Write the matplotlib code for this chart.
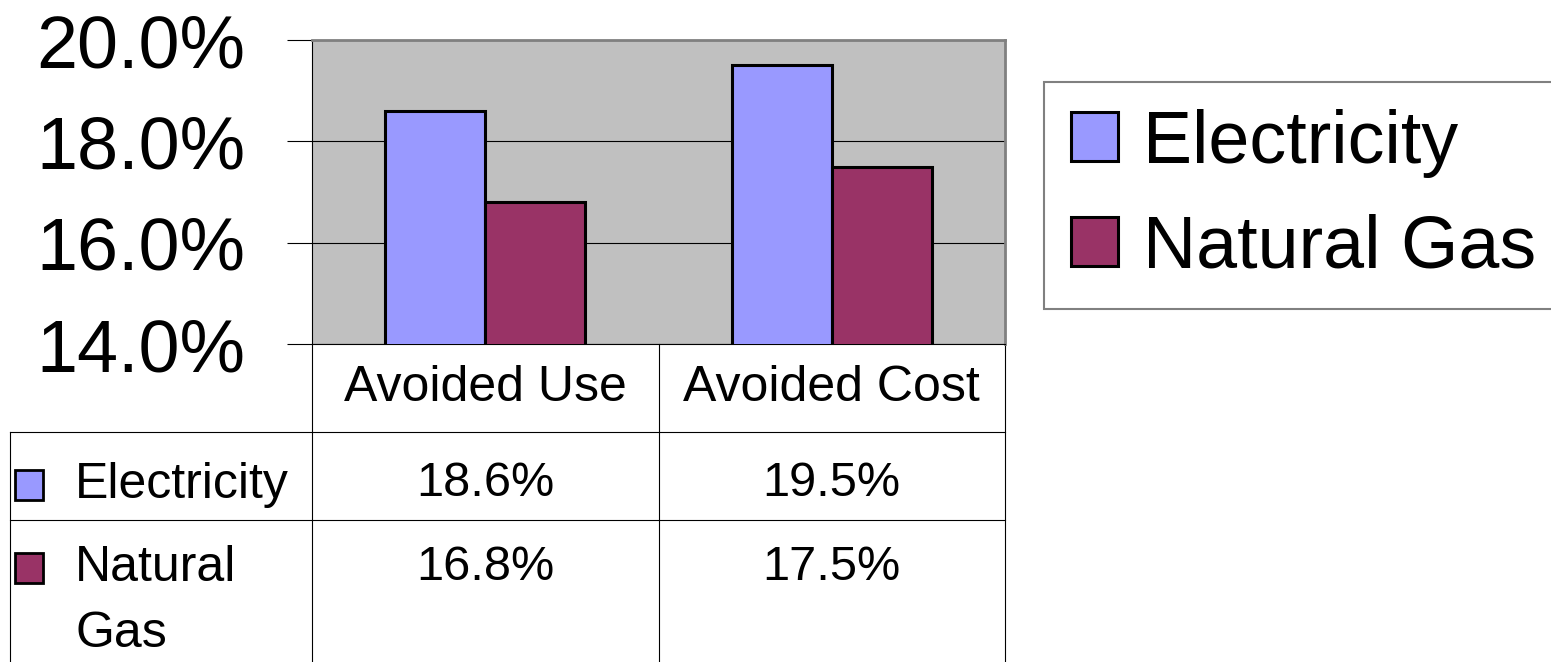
import numpy as np
import matplotlib.pyplot as plt
import matplotlib.transforms as mtransforms
from matplotlib.patches import Rectangle, Patch

plt.rcParams['font.family'] = ['Liberation Sans', 'DejaVu Sans']

categories = ['Avoided Use', 'Avoided Cost']
series_names = ['Electricity', 'Natural Gas']
row_labels = ['Electricity', 'Natural\nGas']
electricity = [18.6, 19.5]
natural_gas = [16.8, 17.5]
yticks = [14.0, 16.0, 18.0, 20.0]

elec_color = '#9999FF'
gas_color = '#993366'

W, H = 1551, 662
fig = plt.figure(figsize=(W / 100, H / 100), dpi=100)
fig.patch.set_facecolor('white')

# plot area in pixel terms of the reference
ax = fig.add_axes([312 / W, 1 - 344 / H, 693 / W, 304 / H])
ax.set_facecolor('#C0C0C0')

x = np.arange(len(categories)) + 0.5
bw = 0.289
ax.bar(x - bw / 2, electricity, bw, bottom=0, color=elec_color,
       edgecolor='black', linewidth=2.2, zorder=3)
ax.bar(x + bw / 2, natural_gas, bw, bottom=0, color=gas_color,
       edgecolor='black', linewidth=2.2, zorder=3)

ax.set_xlim(0, len(categories))
ax.set_ylim(14, 20)
ax.set_yticks(yticks)
ax.set_yticklabels([f'{v:.1f}%' for v in yticks])
ax.tick_params(axis='y', length=18, width=0.8, pad=30, labelsize=53,
               direction='out')
ax.set_xticks([])
ax.yaxis.grid(True, color='black', linewidth=0.8, zorder=1)
ax.set_axisbelow(True)

for s in ['top', 'right']:
    ax.spines[s].set_color('#808080')
    ax.spines[s].set_linewidth(2.0)
for s in ['left', 'bottom']:
    ax.spines[s].set_color('black')
    ax.spines[s].set_linewidth(0.8)

# data table underneath
def px_x(px):
    return (px - 312) / 693

def px_y(py):
    return (344 - py) / 304

lkw = dict(transform=ax.transAxes, clip_on=False, color='black', lw=0.8)
ax.plot([px_x(10), 1.0], [px_y(432)] * 2, **lkw)
ax.plot([px_x(10), 1.0], [px_y(520)] * 2, **lkw)
ax.plot([px_x(10)] * 2, [px_y(432), px_y(662)], **lkw)
for xv in [0.0, 0.5, 1.0]:
    ax.plot([xv, xv], [0, px_y(662)], **lkw)

trans = mtransforms.blended_transform_factory(ax.transData, ax.transAxes)
for xi, cat in zip(x, categories):
    ax.text(xi, px_y(388), cat, transform=trans, ha='center', va='center',
            fontsize=36)
for xi, e, g in zip(x, electricity, natural_gas):
    ax.text(xi, px_y(484), f'{e:.1f}%', transform=trans, ha='center',
            va='center', fontsize=35)
    ax.text(xi, px_y(567), f'{g:.1f}%', transform=trans, ha='center',
            va='center', fontsize=35)

# row labels with color keys
sq_w, sq_h = 28 / 693, 30 / 304
for col, yc in zip([elec_color, gas_color], [485, 568]):
    ax.add_patch(Rectangle((px_x(15), px_y(yc + 15)), sq_w, sq_h,
                           transform=ax.transAxes, clip_on=False,
                           facecolor=col, edgecolor='black', linewidth=2))
ax.text(px_x(75), px_y(485), row_labels[0], transform=ax.transAxes,
        ha='left', va='center', fontsize=36)
ax.text(px_x(75), px_y(601), row_labels[1], transform=ax.transAxes,
        ha='left', va='center', fontsize=36, linespacing=1.55)

# legend on the right
handles = [Patch(facecolor=elec_color, edgecolor='black', linewidth=2.2),
           Patch(facecolor=gas_color, edgecolor='black', linewidth=2.2)]
leg = fig.legend(handles, series_names, loc='upper left',
                 bbox_to_anchor=(1044 / W, 1 - 82 / H), fontsize=53,
                 frameon=True, fancybox=False, framealpha=1,
                 edgecolor='#808080', handlelength=0.64, handleheight=0.64,
                 handletextpad=0.35, labelspacing=0.49, borderpad=0.36,
                 borderaxespad=0)
leg.get_frame().set_linewidth(1.5)

fig.savefig('out.png', dpi=100)
